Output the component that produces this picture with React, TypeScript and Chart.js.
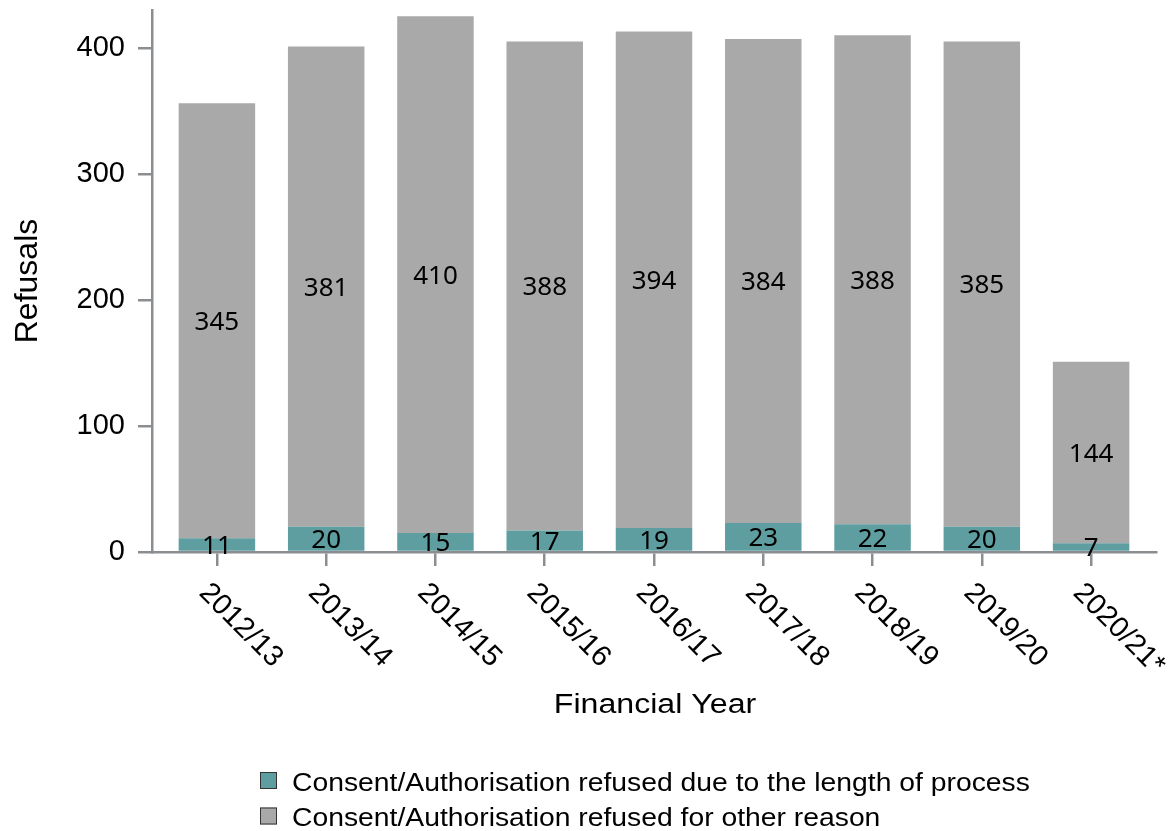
import React, { useEffect, useRef } from "react";
import { Chart, registerables } from "chart.js";

Chart.register(...registerables);

const categories = [
  "2012/13",
  "2013/14",
  "2014/15",
  "2015/16",
  "2016/17",
  "2017/18",
  "2018/19",
  "2019/20",
  "2020/21*",
];
const lengthOfProcess = [11, 20, 15, 17, 19, 23, 22, 20, 7];
const otherReason = [345, 381, 410, 388, 394, 384, 388, 385, 144];
const yTickValues = [0, 100, 200, 300, 400];
const seriesNames = [
  "Consent/Authorisation refused due to the length of process",
  "Consent/Authorisation refused for other reason",
];
const xTitle = "Financial Year";
const yTitle = "Refusals";

const TEAL = "#5F9EA0";
const GREY = "#A9A9A9";
const AXIS = "#8b8e91";
const W = 1173;
const H = 831;

function stretchedText(
  ctx: CanvasRenderingContext2D,
  text: string,
  x: number,
  y: number,
  sx: number,
  align: CanvasTextAlign
) {
  ctx.save();
  ctx.translate(x, y);
  ctx.scale(sx, 1);
  ctx.textAlign = align;
  ctx.fillText(text, 0, 0);
  ctx.restore();
}

export default function App() {
  const ref = useRef<HTMLCanvasElement>(null);

  useEffect(() => {
    if (!ref.current) return;

    const textPlugin = {
      id: "customText",
      afterDraw(chart: any) {
        const ctx: CanvasRenderingContext2D = chart.ctx;
        const xs = chart.scales.x;
        const ca = chart.chartArea;
        ctx.save();
        ctx.fillStyle = "#000";
        ctx.textBaseline = "alphabetic";

        // value labels centred in each segment
        const lf = 26;
        ctx.font = `${lf}px 'Noto Sans'`;
        chart.data.datasets.forEach((ds: any, di: number) => {
          const meta = chart.getDatasetMeta(di);
          meta.data.forEach((el: any, i: number) => {
            const p = el.getProps(["x", "y", "base"], true);
            const cy = (p.y + p.base) / 2;
            ctx.textAlign = "center";
            ctx.fillText(String(ds.data[i].y), p.x, cy + 0.357 * lf);
          });
        });

        // rotated category labels
        const tf = 29;
        ctx.font = `${tf}px 'Liberation Sans'`;
        categories.forEach((c, i) => {
          const px = xs.getPixelForValue(i);
          ctx.save();
          ctx.translate(px - 19, ca.bottom + 14 + 28);
          ctx.rotate(Math.PI / 4);
          ctx.textAlign = "left";
          ctx.fillText(c, 0, 0);
          ctx.restore();
        });

        // y axis title
        ctx.font = "32px 'Liberation Sans'";
        ctx.save();
        ctx.translate(37, (ca.top + ca.bottom) / 2);
        ctx.rotate(-Math.PI / 2);
        ctx.textAlign = "center";
        ctx.fillText(yTitle, 0, 0);
        ctx.restore();

        // x axis title
        ctx.font = "27px 'Liberation Sans'";
        stretchedText(ctx, xTitle, (ca.left + ca.right) / 2 + 1, 713, 1.19, "center");

        // legend
        const colors = [TEAL, GREY];
        ctx.font = "25px 'Liberation Sans'";
        seriesNames.forEach((name, i) => {
          const top = 772 + i * 35.5;
          ctx.fillStyle = colors[i];
          ctx.fillRect(260, top, 17, 17);
          ctx.strokeStyle = "#333";
          ctx.lineWidth = 1;
          ctx.strokeRect(260.5, top + 0.5, 16, 16);
          ctx.fillStyle = "#000";
          stretchedText(ctx, name, 292, top + 18.5, 1.132, "left");
        });

        ctx.restore();
      },
    };

    const chart = new Chart(ref.current, {
      type: "bar",
      data: {
        datasets: [
          {
            label: seriesNames[0],
            data: lengthOfProcess.map((v, i) => ({ x: i, y: v })),
            backgroundColor: TEAL,
            borderWidth: 0,
            categoryPercentage: 0.7,
            barPercentage: 1,
          },
          {
            label: seriesNames[1],
            data: otherReason.map((v, i) => ({ x: i, y: v })),
            backgroundColor: GREY,
            borderWidth: 0,
            categoryPercentage: 0.7,
            barPercentage: 1,
          },
        ],
      },
      options: {
        responsive: false,
        animation: false,
        devicePixelRatio: 1,
        layout: { padding: { top: 10, left: 0, right: 17, bottom: 0 } },
        plugins: {
          legend: { display: false },
          tooltip: { enabled: false },
          title: { display: false },
        },
        scales: {
          x: {
            type: "linear",
            stacked: true,
            offset: false,
            min: -0.594,
            max: 8.594,
            afterBuildTicks: (scale: any) => {
              scale.ticks = categories.map((_, i) => ({ value: i }));
            },
            afterFit: (scale: any) => {
              scale.height = H - 552;
              scale.paddingLeft = 0;
              scale.paddingRight = 0;
            },
            ticks: { display: false, includeBounds: false },
            grid: {
              display: true,
              offset: false,
              drawOnChartArea: false,
              drawTicks: true,
              tickLength: 14,
              color: AXIS,
              lineWidth: 2.5,
            },
            border: { display: true, color: AXIS, width: 2.5 },
          },
          y: {
            type: "linear",
            stacked: true,
            min: 0,
            max: 430,
            afterBuildTicks: (scale: any) => {
              scale.ticks = yTickValues.map((v) => ({ value: v }));
            },
            afterFit: (scale: any) => {
              scale.width = 152;
              scale.paddingTop = 0;
              scale.paddingBottom = 0;
            },
            ticks: {
              includeBounds: false,
              color: "#000",
              padding: 13,
              font: { family: "'Liberation Sans'", size: 29 },
            },
            grid: {
              display: true,
              drawOnChartArea: false,
              drawTicks: true,
              tickLength: 14,
              color: AXIS,
              lineWidth: 2.5,
            },
            border: { display: true, color: AXIS, width: 2.5 },
          },
        },
      } as any,
      plugins: [textPlugin],
    });

    return () => chart.destroy();
  }, []);

  return (
    <div style={{ position: "absolute", left: 0, top: 0, width: W, height: H, background: "#fff" }}>
      <canvas ref={ref} width={W} height={H} style={{ display: "block", width: W, height: H }} />
    </div>
  );
}
